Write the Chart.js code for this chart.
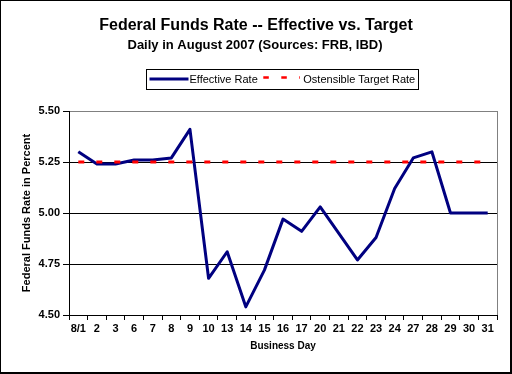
<!DOCTYPE html>
<html>
<head>
<meta charset="utf-8">
<style>
  html, body { margin: 0; padding: 0; background: #fff; }
  #wrap { width: 512px; height: 374px; }
</style>
<script src="https://cdn.jsdelivr.net/npm/chart.js@4/dist/chart.umd.min.js"></script>
</head>
<body>
<div id="wrap"><canvas id="c" width="512" height="374"></canvas></div>
<script>
const days = ["8/1","2","3","6","7","8","9","10","13","14","15","16","17","20","21","22","23","24","27","28","29","30","31"];
const effectiveRate = [5.30,5.24,5.24,5.26,5.26,5.27,5.41,4.68,4.81,4.54,4.72,4.97,4.91,5.03,4.90,4.77,4.88,5.12,5.27,5.30,5.00,5.00,5.00];
const targetRate = [5.25,5.25,5.25,5.25,5.25,5.25,5.25,5.25,5.25,5.25,5.25,5.25,5.25,5.25,5.25,5.25,5.25,5.25,5.25,5.25,5.25,5.25,5.25];
const yTicks = [4.50,4.75,5.00,5.25,5.50];

const titleText = "Federal Funds Rate -- Effective vs. Target";
const subtitleText = "Daily in August 2007 (Sources: FRB, IBD)";
const legendLabels = ["Effective Rate","Ostensible Target Rate"];

const FONT = "'Liberation Sans', Arial, Helvetica, sans-serif";

const decor = {
  id: 'decor',
  beforeDraw(chart) {
    const ctx = chart.ctx;
    ctx.save();
    ctx.fillStyle = '#fff';
    ctx.fillRect(0, 0, chart.width, chart.height);
    ctx.restore();
  },
  afterDatasetsDraw(chart) {
    const {ctx, chartArea} = chart;
    ctx.save();
    ctx.strokeStyle = '#808080';
    ctx.lineWidth = 1;
    ctx.beginPath();
    ctx.moveTo(Math.round(chartArea.right) + 0.5, chartArea.top);
    ctx.lineTo(Math.round(chartArea.right) + 0.5, chartArea.bottom);
    ctx.stroke();
    ctx.restore();
  },
  afterDraw(chart) {
    const ctx = chart.ctx;
    ctx.save();
    // outer border
    ctx.strokeStyle = '#000';
    ctx.lineWidth = 1;
    ctx.strokeRect(0.5, 0.5, 510, 372);
    ctx.beginPath();
    ctx.moveTo(511.5, 0); ctx.lineTo(511.5, 374);
    ctx.moveTo(0, 373.5); ctx.lineTo(512, 373.5);
    ctx.stroke();
    // titles
    ctx.fillStyle = '#000';
    ctx.textAlign = 'center';
    ctx.textBaseline = 'middle';
    ctx.font = "bold 16px " + FONT;
    ctx.fillText(titleText, 256, 26);
    ctx.font = "bold 13px " + FONT;
    ctx.fillText(subtitleText, 255, 45);
    // legend box
    ctx.strokeStyle = '#000';
    ctx.lineWidth = 1;
    ctx.strokeRect(146.5, 69.5, 272, 20);
    // effective sample
    ctx.strokeStyle = '#000080';
    ctx.lineWidth = 3;
    ctx.beginPath();
    ctx.moveTo(149.5, 79); ctx.lineTo(188.5, 79);
    ctx.stroke();
    // target sample (dashes)
    ctx.strokeStyle = '#ff0000';
    ctx.lineWidth = 2.5;
    ctx.setLineDash([5.5, 12.5]);
    ctx.beginPath();
    ctx.moveTo(263.3, 77.5); ctx.lineTo(300, 77.5);
    ctx.stroke();
    ctx.setLineDash([]);
    ctx.fillStyle = '#000';
    ctx.textAlign = 'left';
    ctx.font = "11px " + FONT;
    ctx.fillText(legendLabels[0], 189.5, 79.5);
    ctx.fillText(legendLabels[1], 303.3, 79.5);
    ctx.restore();
  }
};

new Chart(document.getElementById('c'), {
  type: 'line',
  data: {
    labels: days,
    datasets: [
      {
        label: legendLabels[1],
        data: targetRate,
        borderColor: '#ff0000',
        borderWidth: 3,
        borderDash: [6, 12],
        borderCapStyle: 'butt',
        pointRadius: 0,
        fill: false,
        tension: 0
      },
      {
        label: legendLabels[0],
        data: effectiveRate,
        borderColor: '#000080',
        borderWidth: 3,
        borderJoinStyle: 'round',
        pointRadius: 0,
        fill: false,
        tension: 0
      }
    ]
  },
  options: {
    responsive: false,
    animation: false,
    devicePixelRatio: 1,
    layout: { padding: { left: 0, top: 111, right: 15, bottom: 0 } },
    plugins: {
      legend: { display: false },
      title: { display: false },
      tooltip: { enabled: false }
    },
    scales: {
      x: {
        offset: true,
        grid: {
          offset: true,
          drawOnChartArea: false,
          drawTicks: true,
          tickLength: 5,
          color: '#000',
          tickColor: '#000'
        },
        border: { display: true, color: '#000', width: 1 },
        ticks: {
          color: '#000',
          font: { family: FONT, size: 11, weight: 'bold' },
          maxRotation: 0,
          minRotation: 0,
          autoSkip: false,
          padding: 2
        },
        title: {
          display: true,
          text: 'Business Day',
          color: '#000',
          font: { family: FONT, size: 10, weight: 'bold' },
          padding: { top: 0, bottom: 21.5 }
        },
        afterFit(scale) { scale.height = 59; }
      },
      y: {
        min: 4.5,
        max: 5.5,
        afterBuildTicks(scale) { scale.ticks = yTicks.map(v => ({ value: v })); },
        grid: {
          color: (c) => (c.tick && Math.abs(c.tick.value - 5.5) < 1e-6) ? '#808080' : '#000',
          tickColor: '#000',
          tickLength: 6,
          lineWidth: 1
        },
        border: { display: true, color: '#000', width: 1 },
        ticks: {
          color: '#000',
          font: { family: FONT, size: 11, weight: 'bold' },
          padding: 3,
          callback: (v) => Number(v).toFixed(2)
        },
        title: {
          display: true,
          text: 'Federal Funds Rate in Percent',
          color: '#000',
          font: { family: FONT, size: 11, weight: 'bold' },
          padding: { top: 20, bottom: 0 }
        },
        afterFit(scale) { scale.width = 69; }
      }
    }
  },
  plugins: [decor]
});
</script>
</body>
</html>
